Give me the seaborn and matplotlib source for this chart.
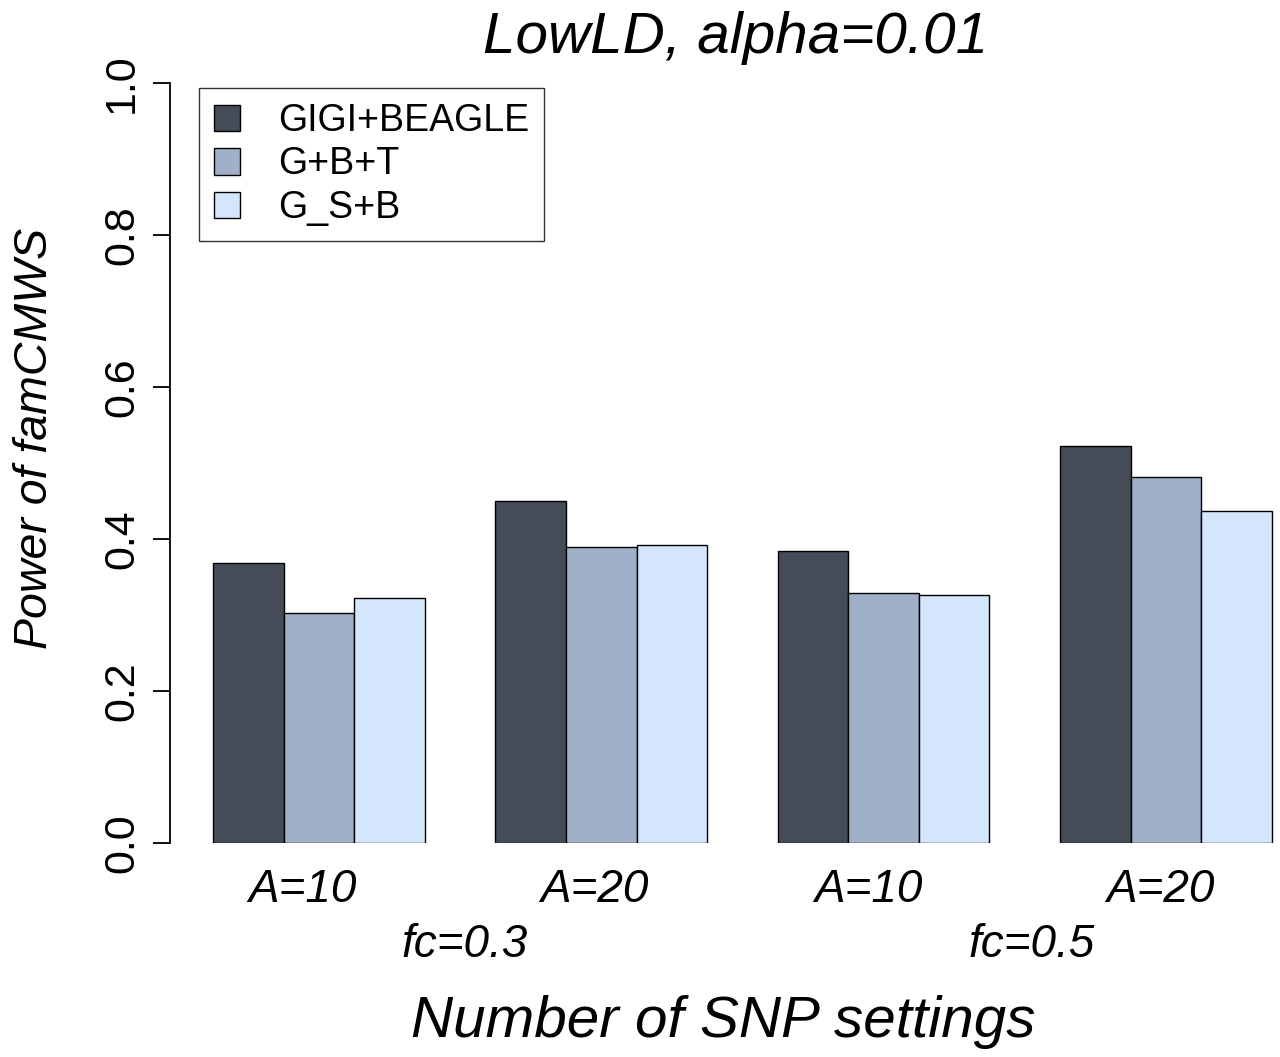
import matplotlib
matplotlib.use("Agg")
import matplotlib.pyplot as plt
import matplotlib.transforms as mtransforms
import seaborn as sns
import pandas as pd

sns.set_theme(style="white")
plt.rcParams['font.family'] = ['Liberation Sans', 'DejaVu Sans']
plt.rcParams['text.color'] = 'black'
plt.rcParams['axes.labelcolor'] = 'black'
plt.rcParams['xtick.color'] = 'black'
plt.rcParams['ytick.color'] = 'black'

groups = ["g1", "g2", "g3", "g4"]
group_labels = ["A=10", "A=20", "A=10", "A=20"]
methods = ["GIGI+BEAGLE", "G+B+T", "G_S+B"]
gigi_beagle = [0.368, 0.450, 0.384, 0.523]
gbt = [0.303, 0.389, 0.329, 0.481]
gsb = [0.322, 0.392, 0.326, 0.437]
fc_labels = ["fc=0.3", "fc=0.5"]
colors = ["#464c57", "#a1b0c9", "#d4e6fb"]

rows = []
for m, vals in zip(methods, [gigi_beagle, gbt, gsb]):
    for g, v in zip(groups, vals):
        rows.append({"group": g, "method": m, "power": v})
df = pd.DataFrame(rows)

W, H = 1280, 1057
fig = plt.figure(figsize=(W / 100, H / 100), dpi=100)
ax = fig.add_axes([170 / W, (H - 843) / H, (1280 - 170) / W, 760 / H])

sns.barplot(data=df, x="group", y="power", hue="method", order=groups,
            hue_order=methods, palette=colors, width=0.75, gap=0,
            edgecolor="black", linewidth=1.0, saturation=1, ax=ax,
            errorbar=None)

px_per_cat = 282.3
x0 = 319
ax.set_xlim((170 - x0) / px_per_cat, (1280 - x0) / px_per_cat)
ax.set_ylim(0, 1)

for s in ["top", "right", "bottom"]:
    ax.spines[s].set_visible(False)
ax.spines["left"].set_color("black")
ax.spines["left"].set_linewidth(1.3)
ax.spines["left"].set_bounds(0, 1)

ax.set_yticks([0, 0.2, 0.4, 0.6, 0.8, 1.0])
ax.set_yticklabels(["0.0", "0.2", "0.4", "0.6", "0.8", "1.0"], rotation=90,
                   va="center", fontsize=31, color="black")
ax.tick_params(axis="y", direction="out", length=12, width=1.3, pad=8,
               left=True, colors="black")
ax.set_xticks(range(4))
ax.set_xticklabels(group_labels, fontsize=33, style="italic", color="black")
ax.tick_params(axis="x", length=0, pad=18)
label_shifts_px = [-17, -7, -15, -5]
for lbl, dx in zip(ax.get_xticklabels(), label_shifts_px):
    shift = mtransforms.ScaledTranslation(dx / 100, 0, fig.dpi_scale_trans)
    lbl.set_transform(lbl.get_transform() + shift)
ax.set_xlabel("")
ax.set_ylabel("")

# legend
handles, labels = ax.get_legend_handles_labels()
if ax.get_legend():
    ax.get_legend().remove()
leg = fig.legend(handles, labels, loc="upper left",
                 bbox_to_anchor=(199 / W, 1 - 88 / H),
                 bbox_transform=fig.transFigure, borderaxespad=0,
                 fontsize=27, frameon=True, fancybox=False,
                 handlelength=0.7, handleheight=0.7, handletextpad=1.0,
                 labelspacing=0.2, borderpad=0.4, labelcolor="black")
leg.get_frame().set_edgecolor("black")
leg.get_frame().set_linewidth(1.0)

# group-level labels
fig.text(465 / W, 1 - 945 / H, fc_labels[0], ha="center", va="center",
         fontsize=33, style="italic", color="black")
fig.text(1032 / W, 1 - 945 / H, fc_labels[1], ha="center", va="center",
         fontsize=33, style="italic", color="black")

fig.text(736 / W, 1 - 38 / H, "LowLD, alpha=0.01", ha="center", va="center",
         fontsize=42, style="italic", color="black")
fig.text(723 / W, 1 - 1022 / H, "Number of SNP settings", ha="center",
         va="center", fontsize=42, style="italic", color="black")
fig.text(35 / W, 1 - 438 / H, "Power of famCMWS", ha="center", va="center",
         rotation=90, fontsize=33.5, style="italic", color="black")

fig.savefig("out.png", dpi=100)
